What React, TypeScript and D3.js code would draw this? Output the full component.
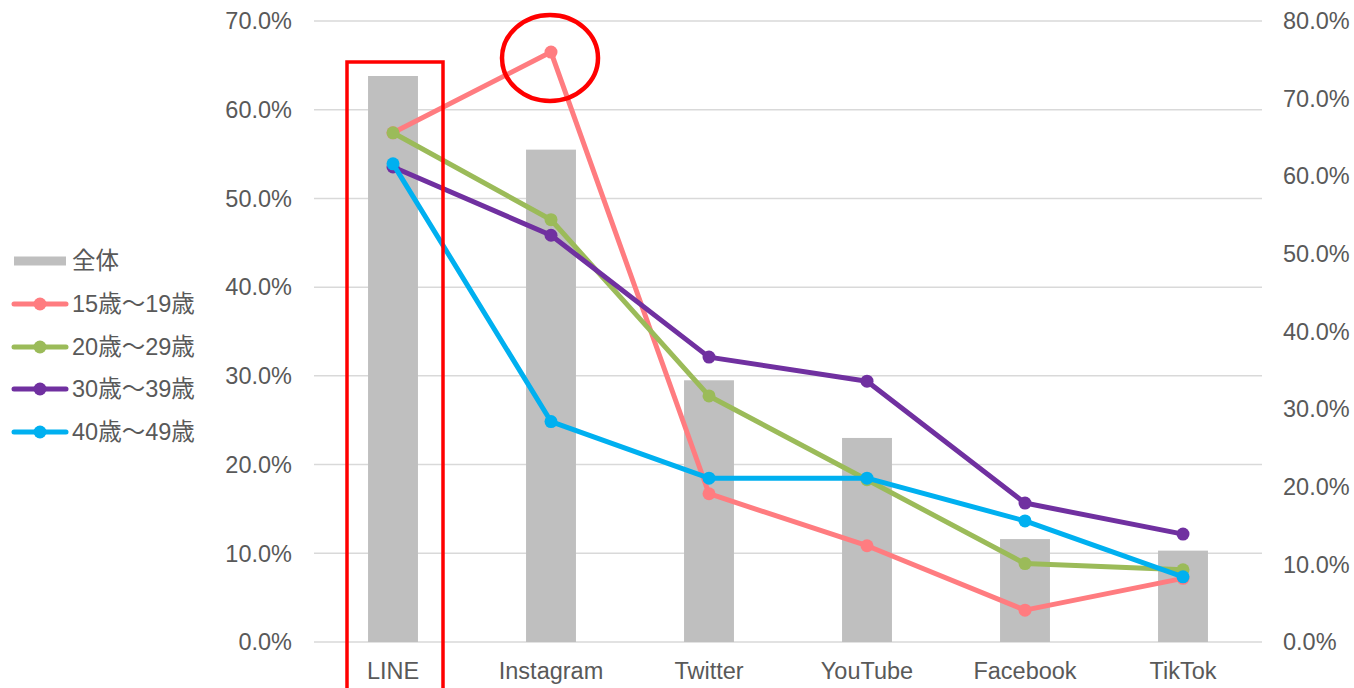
import * as d3 from "d3";

const categories = ["LINE", "Instagram", "Twitter", "YouTube", "Facebook", "TikTok"];
const totalValues = [63.8, 55.5, 29.5, 23.0, 11.6, 10.3];
const seriesNames = ["15歳～19歳", "20歳～29歳", "30歳～39歳", "40歳～49歳"];
const seriesColors = ["#FF7C80", "#9BBB59", "#7030A0", "#00B0F0"];
const age15 = [65.6, 76.0, 19.1, 12.4, 4.1, 8.2];
const age20 = [65.6, 54.4, 31.7, 20.9, 10.1, 9.3];
const age30 = [61.2, 52.4, 36.7, 33.6, 17.9, 13.9];
const age40 = [61.6, 28.4, 21.1, 21.1, 15.6, 8.4];
const leftTicks = [0, 10, 20, 30, 40, 50, 60, 70];
const rightTicks = [0, 10, 20, 30, 40, 50, 60, 70, 80];

const W = 1354;
const H = 688;
const font = "'Liberation Sans', Arial, 'Noto Sans CJK JP', sans-serif";
const textColor = "#595959";
const fs = 23.5;

export default function App() {
  const plot = { left: 314, right: 1262, top: 21, bottom: 642 };
  const x = d3.scaleBand().domain(categories).range([plot.left, plot.right]).paddingInner(0).paddingOuter(0);
  const yLeft = d3.scaleLinear().domain([0, 70]).range([plot.bottom, plot.top]);
  const yRight = d3.scaleLinear().domain([0, 80]).range([plot.bottom, plot.top]);
  const barW = x.bandwidth() * 0.316;
  const cx = (c: string) => (x(c) ?? 0) + x.bandwidth() / 2;

  const series = [age15, age20, age30, age40];
  const line = d3
    .line<number>()
    .x((_, i) => cx(categories[i]))
    .y((v) => yRight(v));

  const legendRows = [261, 304, 347, 389, 432];

  return (
    <svg
      width={W}
      height={H}
      style={{ position: "absolute", left: 0, top: 0, background: "#fff" }}
      fontFamily={font}
    >
      {/* gridlines */}
      {leftTicks.map((t) => (
        <line
          key={t}
          x1={plot.left}
          x2={plot.right}
          y1={yLeft(t)}
          y2={yLeft(t)}
          stroke="#D9D9D9"
          strokeWidth={1.5}
        />
      ))}
      {/* left axis labels */}
      {leftTicks.map((t) => (
        <text key={t} x={292} y={yLeft(t)} dy="0.35em" textAnchor="end" fontSize={fs} fill={textColor}>
          {t.toFixed(1)}%
        </text>
      ))}
      {/* right axis labels */}
      {rightTicks.map((t) => (
        <text key={t} x={1283} y={yRight(t)} dy="0.35em" textAnchor="start" fontSize={fs} fill={textColor}>
          {t.toFixed(1)}%
        </text>
      ))}
      {/* bars */}
      {totalValues.map((v, i) => (
        <rect
          key={i}
          x={cx(categories[i]) - barW / 2}
          y={yLeft(v)}
          width={barW}
          height={yLeft(0) - yLeft(v)}
          fill="#BFBFBF"
        />
      ))}
      {/* category labels */}
      {categories.map((c) => (
        <text key={c} x={cx(c)} y={671} dy="0.35em" textAnchor="middle" fontSize={fs} fill={textColor}>
          {c}
        </text>
      ))}
      {/* lines */}
      {series.map((s, k) => (
        <g key={k}>
          <path d={line(s) ?? ""} fill="none" stroke={seriesColors[k]} strokeWidth={5} strokeLinejoin="round" />
          {s.map((v, i) => (
            <circle key={i} cx={cx(categories[i])} cy={yRight(v)} r={6.5} fill={seriesColors[k]} />
          ))}
        </g>
      ))}
      {/* legend */}
      <rect x={14} y={legendRows[0] - 4.5} width={52} height={9} fill="#BFBFBF" />
      <text x={72} y={legendRows[0]} dy="0.35em" fontSize={fs} fill={textColor}>
        全体
      </text>
      {seriesNames.map((n, k) => (
        <g key={n}>
          <line
            x1={14}
            x2={66}
            y1={legendRows[k + 1]}
            y2={legendRows[k + 1]}
            stroke={seriesColors[k]}
            strokeWidth={5}
            strokeLinecap="round"
          />
          <circle cx={40} cy={legendRows[k + 1]} r={6.5} fill={seriesColors[k]} />
          <text x={72} y={legendRows[k + 1]} dy="0.35em" fontSize={fs} fill={textColor}>
            {n}
          </text>
        </g>
      ))}
      {/* highlight annotations */}
      <rect x={347} y={62} width={96} height={700} fill="none" stroke="#FF0000" strokeWidth={3.5} />
      <ellipse cx={550} cy={58} rx={48} ry={43} fill="none" stroke="#FF0000" strokeWidth={4.5} />
    </svg>
  );
}
